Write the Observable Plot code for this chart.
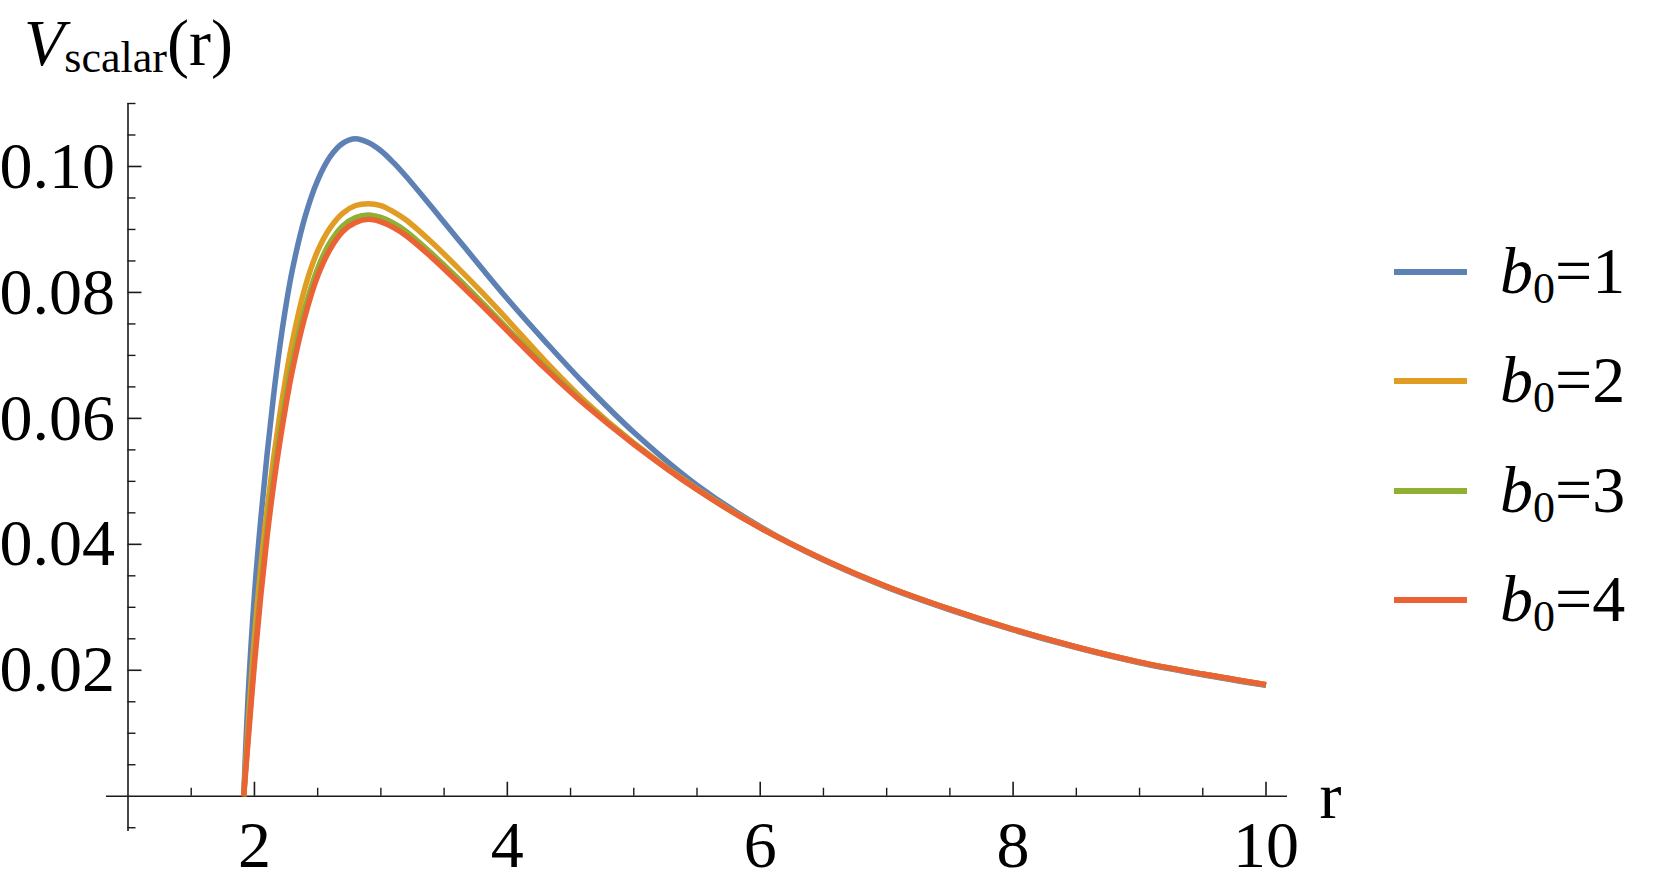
<!DOCTYPE html>
<html>
<head>
<meta charset="utf-8">
<script src="https://cdn.jsdelivr.net/npm/d3@7"></script>
<script src="https://cdn.jsdelivr.net/npm/@observablehq/plot@0.6"></script>
<style>
html, body { margin: 0; padding: 0; background: #fff; overflow: hidden; }
#wrap { position: relative; width: 1661px; height: 886px; font-family: "Liberation Serif", "Times New Roman", serif; color: #000; }
#wrap svg { position: absolute; left: 0; top: 0; }
.lbl { position: absolute; font-size: 66px; line-height: 66px; white-space: nowrap; }
.sub { font-size: 44px; position: relative; }
.sw { position: absolute; height: 6px; width: 73px; }
</style>
</head>
<body>
<div id="wrap"></div>
<script>
// ---- data ----
const r = [1.915, 1.95, 2.0, 2.05, 2.1, 2.15, 2.2, 2.25, 2.3, 2.4, 2.5, 2.6, 2.7, 2.8, 2.9, 3.0, 3.1, 3.2, 3.4, 3.6, 3.8, 4.0, 4.3, 4.6, 5.0, 5.5, 6.0, 6.5, 7.0, 7.5, 8.0, 8.5, 9.0, 9.5, 10.0];
const vB1 = [0, 0.0160, 0.0320, 0.0440, 0.0543, 0.0634, 0.0713, 0.0780, 0.0836, 0.0920, 0.0978, 0.1016, 0.1037, 0.1044, 0.1038, 0.1025, 0.1006, 0.0984, 0.0936, 0.0887, 0.0838, 0.0790, 0.0722, 0.0657, 0.0578, 0.0494, 0.0428, 0.0375, 0.0332, 0.0296, 0.0264, 0.0236, 0.0212, 0.0193, 0.0176];
const vB2 = [0, 0.0112, 0.0252, 0.0363, 0.0455, 0.0535, 0.0605, 0.0667, 0.0722, 0.0808, 0.0866, 0.0903, 0.0926, 0.0938, 0.0941, 0.0938, 0.0928, 0.0915, 0.0880, 0.0841, 0.0800, 0.0757, 0.0691, 0.0630, 0.0561, 0.0488, 0.0427, 0.0376, 0.0333, 0.0297, 0.0265, 0.0237, 0.0213, 0.0194, 0.0177];
const vB3 = [0, 0.0094, 0.0222, 0.0332, 0.0426, 0.0506, 0.0575, 0.0636, 0.0690, 0.0775, 0.0838, 0.0880, 0.0906, 0.0919, 0.0923, 0.0919, 0.0910, 0.0897, 0.0862, 0.0824, 0.0784, 0.0743, 0.0682, 0.0626, 0.0560, 0.0487, 0.0426, 0.0376, 0.0333, 0.0297, 0.0265, 0.0237, 0.0213, 0.0194, 0.0177];
const vB4 = [0, 0.0088, 0.0210, 0.0318, 0.0412, 0.0492, 0.0561, 0.0622, 0.0676, 0.0762, 0.0826, 0.0869, 0.0897, 0.0911, 0.0916, 0.0912, 0.0903, 0.0890, 0.0856, 0.0818, 0.0779, 0.0739, 0.0679, 0.0624, 0.0559, 0.0487, 0.0426, 0.0376, 0.0333, 0.0297, 0.0265, 0.0237, 0.0213, 0.0194, 0.0177];
const seriesValues = [vB1, vB2, vB3, vB4];
const seriesLabels = ["1", "2", "3", "4"];
const seriesColors = ["#5E81B5", "#E19C24", "#8FB032", "#EB6235"];

const xMajor = [2, 4, 6, 8, 10];
const xMinor = [1.5, 2.5, 3, 3.5, 4.5, 5, 5.5, 6.5, 7, 7.5, 8.5, 9, 9.5];
const yMajor = [0.02, 0.04, 0.06, 0.08, 0.10];
const yMinor = [-0.005, 0.005, 0.01, 0.015, 0.025, 0.03, 0.035, 0.045, 0.05, 0.055, 0.065, 0.07, 0.075, 0.085, 0.09, 0.095, 0.105, 0.11];

// ---- layout ----
const X0 = 0.83, X1 = 10.17, Y0 = -0.0056, Y1 = 0.11;
const W = 1350, H = 886, mL = 106, mR = W - 1287, mT = 103, mB = H - 831;
const pxX = (W - mL - mR) / (X1 - X0);
const pxY = (H - mT - mB) / (Y1 - Y0);
const axisColor = "#1a1a1a";
const font = "Liberation Serif, Times New Roman, serif";

const marks = [];
marks.push(Plot.ruleY([0], {stroke: axisColor, strokeWidth: 1.6}));
marks.push(Plot.ruleX([1], {y1: Y0, y2: Y1, stroke: axisColor, strokeWidth: 1.6}));
marks.push(Plot.ruleX(xMajor, {x: d => d, y1: 0, y2: 14 / pxY, stroke: axisColor, strokeWidth: 1.6}));
marks.push(Plot.ruleX(xMinor, {x: d => d, y1: 0, y2: 8 / pxY, stroke: axisColor, strokeWidth: 1.4}));
marks.push(Plot.ruleY(yMajor, {y: d => d, x1: 1, x2: 1 + 14 / pxX, stroke: axisColor, strokeWidth: 1.6}));
marks.push(Plot.ruleY(yMinor, {y: d => d, x1: 1, x2: 1 + 8 / pxX, stroke: axisColor, strokeWidth: 1.4}));
marks.push(Plot.text(xMajor, {x: d => d, y: () => 0, text: d => String(d), dy: 71, lineAnchor: "bottom", textAnchor: "middle", fontSize: 66, fontFamily: font, fill: "#000"}));
marks.push(Plot.text(yMajor, {x: () => 1, y: d => d, text: d => d.toFixed(2), dx: -13, lineAnchor: "middle", textAnchor: "end", fontSize: 66, fontFamily: font, fill: "#000"}));
marks.push(Plot.text(["r"], {x: () => X1, y: () => 0, text: d => d, dx: 32, dy: 22, lineAnchor: "bottom", textAnchor: "start", fontSize: 66, fontFamily: font, fill: "#000"}));
seriesValues.forEach((vals, k) => {
  const rows = r.map((rv, i) => ({r: rv, v: vals[i]}));
  marks.push(Plot.line(rows, {x: "r", y: "v", stroke: seriesColors[k], strokeWidth: 5.5, curve: "catmull-rom", strokeLinecap: "butt", strokeLinejoin: "round"}));
});

const chart = Plot.plot({
  width: W, height: H,
  marginLeft: mL, marginRight: mR, marginTop: mT, marginBottom: mB,
  x: {domain: [X0, X1], axis: null},
  y: {domain: [Y0, Y1], axis: null},
  style: {background: "transparent", fontFamily: font, overflow: "visible"},
  marks
});
const wrap = document.getElementById("wrap");
wrap.appendChild(chart);

const title = document.createElement("div");
title.className = "lbl";
title.style.left = "24px";
title.style.top = "10px";
title.innerHTML = '<i>V</i><span class="sub" style="top:7px">scalar</span>(r)';
wrap.appendChild(title);

const legY = [271.7, 381, 490.7, 600];
seriesLabels.forEach((lab, k) => {
  const sw = document.createElement("div");
  sw.className = "sw";
  sw.style.left = "1394px";
  sw.style.top = (legY[k] - 3) + "px";
  sw.style.background = seriesColors[k];
  wrap.appendChild(sw);
  const t = document.createElement("div");
  t.className = "lbl";
  t.style.left = "1500px";
  t.style.top = (legY[k] + 21.6 - 55.3) + "px";
  t.innerHTML = '<i>b</i><span class="sub" style="top:10px">0</span>=' + lab;
  wrap.appendChild(t);
});
</script>
</body>
</html>
